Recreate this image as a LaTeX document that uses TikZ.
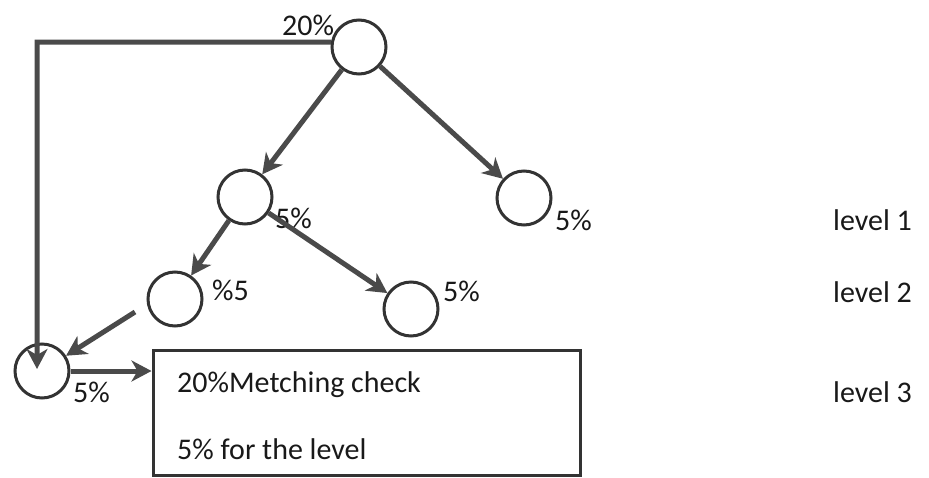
\documentclass[tikz,border=0pt]{standalone}
\usepackage{fontspec}
\setmainfont{Carlito}
\usetikzlibrary{arrows.meta}
\definecolor{circcol}{HTML}{333333}
\definecolor{arrcol}{HTML}{4A4A4A}
\begin{document}
\begin{tikzpicture}[x=1pt,y=-1pt,
  circ/.style={circle,draw=circcol,line width=3pt,minimum size=54pt,inner sep=0pt},
  arr/.style={draw=arrcol,line width=5pt,-{Stealth[length=20pt,width=21pt,inset=6pt]}},
  lbl/.style={anchor=base west,inner sep=0pt,font=\fontsize{30}{36}\selectfont,text=black!90},
  boxst/.style={draw=circcol,line width=3pt,minimum width=427pt,minimum height=125pt,inner sep=0pt}]
\useasboundingbox (0,0) rectangle (929,477);
% circles
\node[circ] (top) at (359,47) {};
\node[circ] (l1l) at (245,197) {};
\node[circ] (l1r) at (524,198) {};
\node[circ] (l2l) at (175,299) {};
\node[circ] (l2r) at (411,309) {};
\node[circ] (l3) at (42,371) {};
\node[boxst] (box) at (366.5,412.5) {};
% labels
\node[lbl] (t20) at (282,35) {20\%};
\node[lbl] (t1l) at (275,228) {5\%};
\node[lbl] (t1r) at (555,230) {5\%};
\node[lbl] (t2l) at (212,300) {\%5};
\node[lbl] (t2r) at (443,301) {5\%};
\node[lbl] (t3) at (73,402) {5\%};
\node[lbl] (b1) at (177,392) {20\%Metching check};
\node[lbl] (b2) at (177,459) {5\% for the level};
\node[lbl] (lv1) at (833,230) {level 1};
\node[lbl] (lv2) at (833,302) {level 2};
\node[lbl] (lv3) at (833,402) {level 3};
% connectors
\coordinate (corner) at (37,42);
\coordinate (l3in) at (37,369);
\coordinate (s3) at (135,312);
\draw[arr] (top) -- (l1l);
\draw[arr] (top) -- (l1r);
\draw[arr] (l1l) -- (l2l);
\draw[arr] (l1l) -- (l2r);
\draw[arr] (s3) -- (l3);
\draw[arr] (top.170) -- (corner) -- (l3in);
\draw[arr] (l3.east) -- (l3.east -| box.west);
\end{tikzpicture}
\end{document}
